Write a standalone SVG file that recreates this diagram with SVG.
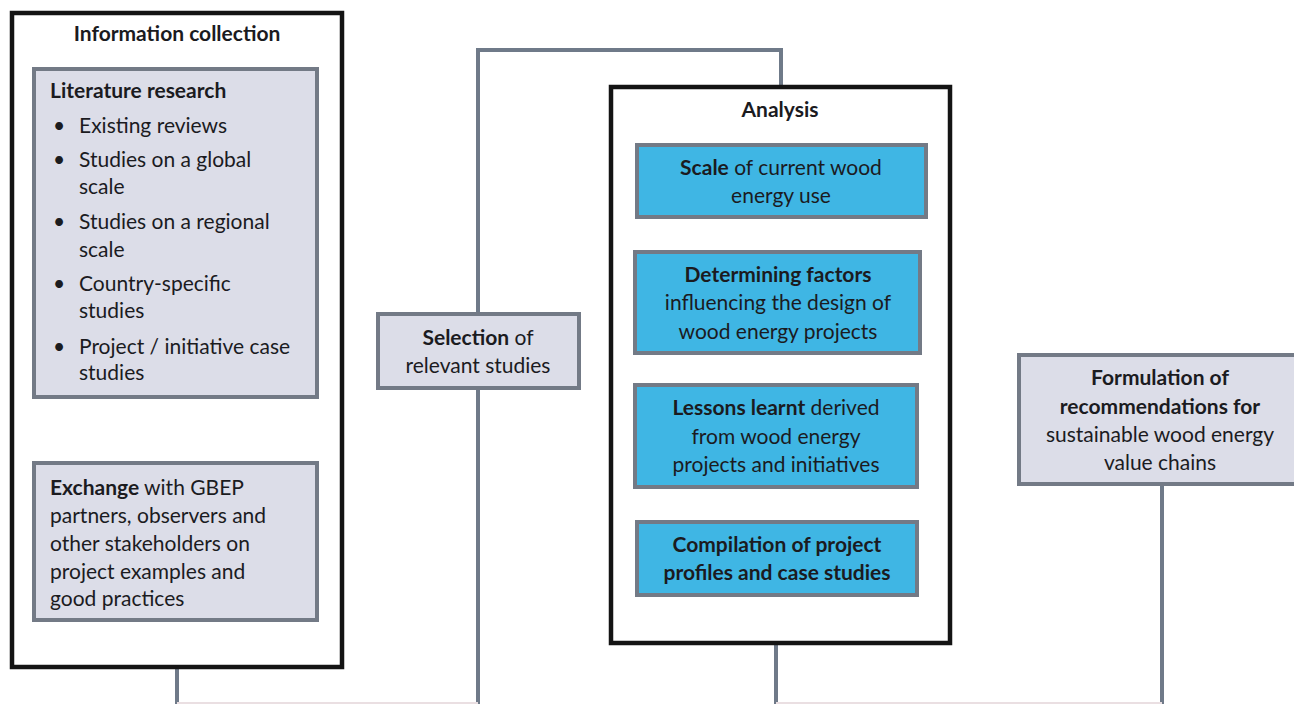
<svg xmlns="http://www.w3.org/2000/svg" width="1294" height="704" viewBox="0 0 1294 704">
  <style>
    text { font-family: Lato, "Open Sans", "Liberation Sans", sans-serif; font-size: 21px; fill: #1b1b1f; }
    .b { font-weight: bold; }
    .c { text-anchor: middle; }
    .frame { fill: #ffffff; stroke: #141414; stroke-width: 4.5; }
    .grey { fill: #dcdde8; stroke: #737a86; stroke-width: 4; }
    .blue { fill: #3fb6e4; stroke: #737a86; stroke-width: 4; }
    .link { fill: none; stroke: #6f7a89; stroke-width: 4; }
    .faint { fill: none; stroke: #eadfe2; stroke-width: 2; }
  </style>
  <rect width="1294" height="704" fill="#ffffff"/>

  <g id="connectors">
    <path class="link" d="M176,397 V463"/>
    <path class="link" d="M177,667 V704"/>
    <path class="link" d="M478,314 V50 H781 V87"/>
    <path class="link" d="M478,388 V704"/>
    <path class="link" d="M779,217 V252"/>
    <path class="link" d="M776,353 V385"/>
    <path class="link" d="M775,487 V522"/>
    <path class="link" d="M776,643 V704"/>
    <path class="link" d="M1162,484 V704"/>
    <path class="faint" d="M177,703 H478 M776,703 H1162"/>
  </g>

  <g id="information-collection">
    <rect class="frame" x="12" y="13" width="330" height="654"/>
    <text class="b c" x="177" y="41">Information collection</text>
  </g>

  <g id="literature-research">
    <rect class="grey" x="34" y="69" width="283" height="328"/>
    <text class="b" x="50" y="98">Literature research</text>
    <text x="53" y="133">•</text><text x="79" y="133">Existing reviews</text>
    <text x="53" y="167">•</text><text x="79" y="167">Studies on a global</text>
    <text x="79" y="194">scale</text>
    <text x="53" y="229">•</text><text x="79" y="229">Studies on a regional</text>
    <text x="79" y="257">scale</text>
    <text x="53" y="291">•</text><text x="79" y="291">Country-specific</text>
    <text x="79" y="318">studies</text>
    <text x="53" y="354">•</text><text x="79" y="354">Project / initiative case</text>
    <text x="79" y="380">studies</text>
  </g>

  <g id="exchange">
    <rect class="grey" x="34" y="463" width="283" height="157"/>
    <text x="50" y="495"><tspan class="b">Exchange</tspan> with GBEP</text>
    <text x="50" y="523">partners, observers and</text>
    <text x="50" y="551">other stakeholders on</text>
    <text x="50" y="579">project examples and</text>
    <text x="50" y="606">good practices</text>
  </g>

  <g id="selection">
    <rect class="grey" x="378" y="314" width="201" height="74"/>
    <text class="c" x="478" y="345"><tspan class="b">Selection</tspan> of</text>
    <text class="c" x="478" y="373">relevant studies</text>
  </g>

  <g id="analysis">
    <rect class="frame" x="611" y="87" width="339" height="556"/>
    <text class="b c" x="780" y="117">Analysis</text>
  </g>

  <g id="scale">
    <rect class="blue" x="637" y="145" width="289" height="72"/>
    <text class="c" x="781" y="175"><tspan class="b">Scale</tspan> of current wood</text>
    <text class="c" x="781" y="203">energy use</text>
  </g>

  <g id="determining-factors">
    <rect class="blue" x="635" y="252" width="285" height="101"/>
    <text class="b c" x="778" y="282">Determining factors</text>
    <text class="c" x="778" y="310">influencing the design of</text>
    <text class="c" x="778" y="339">wood energy projects</text>
  </g>

  <g id="lessons-learnt">
    <rect class="blue" x="635" y="385" width="282" height="102"/>
    <text class="c" x="776" y="415"><tspan class="b">Lessons learnt</tspan> derived</text>
    <text class="c" x="776" y="444">from wood energy</text>
    <text class="c" x="776" y="472">projects and initiatives</text>
  </g>

  <g id="compilation">
    <rect class="blue" x="637" y="522" width="280" height="73"/>
    <text class="b c" x="777" y="552">Compilation of project</text>
    <text class="b c" x="777" y="580">profiles and case studies</text>
  </g>

  <g id="formulation">
    <rect class="grey" x="1019" y="355" width="285" height="129"/>
    <text class="b c" x="1160" y="385">Formulation of</text>
    <text class="b c" x="1160" y="414">recommendations for</text>
    <text class="c" x="1160" y="442">sustainable wood energy</text>
    <text class="c" x="1160" y="470">value chains</text>
  </g>
</svg>
